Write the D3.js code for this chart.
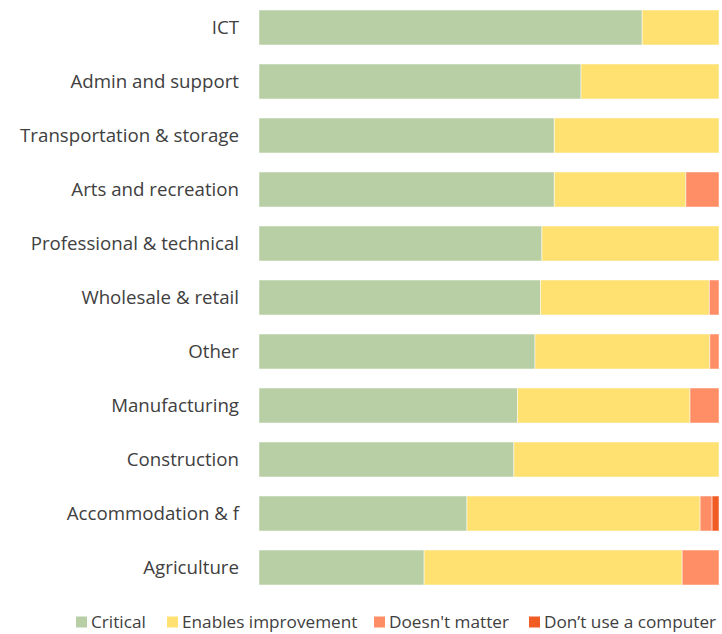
<!DOCTYPE html>
<html>
<head>
<meta charset="utf-8">
<script src="https://cdn.jsdelivr.net/npm/d3@7"></script>
<style>
  html, body { margin: 0; padding: 0; background: #fff; }
  svg text { font-family: "Open Sans", sans-serif; fill: #404040; }
</style>
</head>
<body>
<svg id="chart" width="722" height="634"></svg>
<script>
// Sectors, top to bottom
const sectors = [
  "ICT", "Admin and support", "Transportation & storage", "Arts and recreation",
  "Professional & technical", "Wholesale & retail", "Other", "Manufacturing",
  "Construction", "Accommodation & f", "Agriculture"
];
const seriesNames = ["Critical", "Enables improvement", "Doesn't matter", "Don\u2019t use a computer"];
// Share of respondents (%) per sector
const critical    = [83.3, 70.0, 64.2, 64.2, 61.5, 61.2, 60.0, 56.2, 55.4, 45.2, 35.9];
const enables     = [16.7, 30.0, 35.8, 28.6, 38.5, 36.7, 38.0, 37.5, 44.6, 50.7, 56.1];
const doesntMatter= [ 0.0,  0.0,  0.0,  7.2,  0.0,  2.1,  2.0,  6.3,  0.0,  2.6,  8.0];
const noComputer  = [ 0.0,  0.0,  0.0,  0.0,  0.0,  0.0,  0.0,  0.0,  0.0,  1.5,  0.0];
const colors = ["#b8cfa6", "#fee170", "#ff8d66", "#f15b24"];

const rows = sectors.map((s, i) => ({
  sector: s,
  "Critical": critical[i],
  "Enables improvement": enables[i],
  "Doesn't matter": doesntMatter[i],
  "Don\u2019t use a computer": noComputer[i]
}));

const svg = d3.select("#chart");
const margin = { left: 259, right: 3, top: 0, bottom: 39 };
const W = 722, H = 634;

const x = d3.scaleLinear().domain([0, 100]).range([margin.left, W - margin.right]);
const y = d3.scaleBand().domain(sectors).range([margin.top, H - margin.bottom])
  .paddingInner(0.352).paddingOuter(0.185);
const color = d3.scaleOrdinal().domain(seriesNames).range(colors);

const stacked = d3.stack().keys(seriesNames)(rows);

svg.append("g").selectAll("g")
  .data(stacked)
  .join("g")
  .attr("fill", d => color(d.key))
  .selectAll("rect")
  .data(d => d.filter(p => p[1] - p[0] > 0))
  .join("rect")
  .attr("x", d => x(d[0]))
  .attr("y", d => y(d.data.sector))
  .attr("width", d => x(d[1]) - x(d[0]))
  .attr("height", y.bandwidth())
  .attr("stroke", "#ffffff")
  .attr("stroke-opacity", 0.5)
  .attr("stroke-width", 1);

// Category labels
const yAxis = d3.axisLeft(y).tickSize(0).tickPadding(20);
const ga = svg.append("g").attr("transform", `translate(${margin.left},1)`).call(yAxis);
ga.select(".domain").remove();
ga.selectAll("text").style("font-size", "18.7px").style("font-family", "'Open Sans', sans-serif").attr("fill", "#404040");

// Legend
const legendX = [76, 167, 374, 529];
const legend = svg.append("g").attr("transform", "translate(0,622)");
const items = legend.selectAll("g").data(seriesNames).join("g")
  .attr("transform", (d, i) => `translate(${legendX[i]},0)`);
items.append("rect").attr("x", 0).attr("y", -5.5).attr("width", 11).attr("height", 11).attr("fill", d => color(d));
items.append("text").attr("x", 15).attr("y", 0).attr("dy", "0.35em")
  .style("font-size", "17.2px").text(d => d);
</script>
</body>
</html>
